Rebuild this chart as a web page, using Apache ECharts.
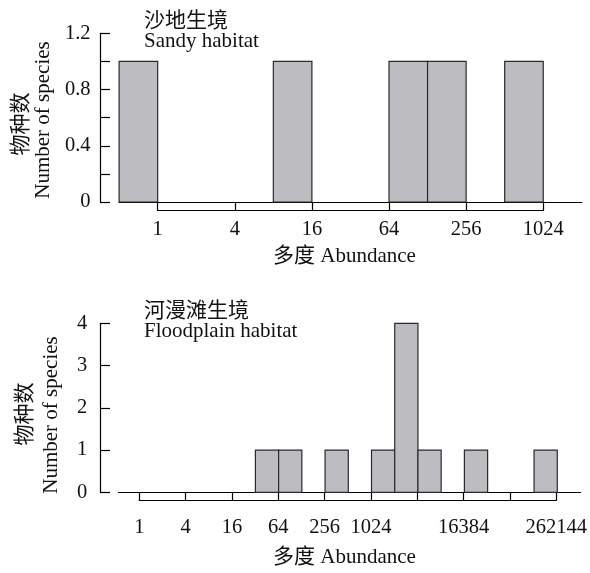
<!DOCTYPE html>
<html>
<head>
<meta charset="utf-8">
<title>物种多度分布</title>
<script src="https://cdn.jsdelivr.net/npm/echarts@6/dist/echarts.min.js"></script>
<style>
  html, body { margin: 0; padding: 0; background: #ffffff; }
  #chart { width: 590px; height: 573px; }
</style>
</head>
<body>
<div id="chart"></div>
<script>
// Octave classes are given by their upper abundance bound (bin = (bound/2, bound]).
const sandyUpperBounds = [1, 16, 128, 256, 1024];
const sandyCounts = [1, 1, 1, 1, 1];
const floodUpperBounds = [64, 128, 512, 2048, 4096, 8192, 32768, 262144];
const floodCounts = [1, 1, 1, 1, 4, 1, 1, 1];

// Abundance tick labels, one per factor-of-4 step starting at 1 (empty = unlabeled tick)
const sandyTickLabels = ['1', '4', '16', '64', '256', '1024'];
const floodTickLabels = ['1', '4', '16', '64', '256', '1024', '', '16384', '', '262144'];

const SERIF = '"Liberation Serif", "Times New Roman", "Noto Sans CJK SC", serif';
const TEXT_COLOR = '#111';
const BAR_FILL = '#bdbcc1';
const BAR_EDGE = '#2a2a2a';

function toBins(bounds, counts) {
  return bounds.map((b, i) => [Math.log2(b) - 1, Math.log2(b), counts[i]]);
}

function renderBin(params, api) {
  const p0 = api.coord([api.value(0), 0]);
  const p1 = api.coord([api.value(1), api.value(2)]);
  return {
    type: 'rect',
    shape: { x: p0[0], y: p1[1], width: p1[0] - p0[0], height: p0[1] - p1[1] },
    style: { fill: BAR_FILL, stroke: BAR_EDGE, lineWidth: 1.2 }
  };
}

const chart = echarts.init(document.getElementById('chart'), null, { renderer: 'canvas' });

const axisLineStyle = { color: '#000', width: 1.2 };
const tickFont = { fontFamily: SERIF, fontSize: 20.5, color: TEXT_COLOR };

const option = {
  animation: false,
  backgroundColor: '#ffffff',
  grid: [
    // sandy: plotting area and its abundance scale
    { left: 119.1, width: 462.7, top: 33.3, height: 168.7 },
    { left: 157.7, width: 385.6, top: 33.3, height: 168.7 },
    // floodplain: plotting area and its abundance scale
    { left: 118.4, width: 462.1, top: 323.3, height: 169 },
    { left: 139.3, width: 418, top: 323.3, height: 169 }
  ],
  xAxis: [
    { gridIndex: 0, type: 'value', min: -1, max: 11,
      axisLine: { show: true, onZero: false, lineStyle: axisLineStyle },
      axisTick: { show: false }, axisLabel: { show: false }, splitLine: { show: false } },
    { gridIndex: 1, type: 'value', min: 0, max: 10, interval: 2, offset: 8.7,
      axisLine: { show: true, onZero: false, lineStyle: axisLineStyle },
      axisTick: { show: true, inside: true, length: 8.7, lineStyle: axisLineStyle },
      axisLabel: Object.assign({ margin: 9, showMinLabel: true, showMaxLabel: true,
        formatter: v => sandyTickLabels[Math.round(v / 2)] || '' }, tickFont),
      splitLine: { show: false } },
    { gridIndex: 2, type: 'value', min: -0.9, max: 19,
      axisLine: { show: true, onZero: false, lineStyle: axisLineStyle },
      axisTick: { show: false }, axisLabel: { show: false }, splitLine: { show: false } },
    { gridIndex: 3, type: 'value', min: 0, max: 18, interval: 2, offset: 8.4,
      axisLine: { show: true, onZero: false, lineStyle: axisLineStyle },
      axisTick: { show: true, inside: true, length: 8.4, lineStyle: axisLineStyle },
      axisLabel: Object.assign({ margin: 16.5, showMinLabel: true, showMaxLabel: true,
        formatter: v => floodTickLabels[Math.round(v / 2)] || '' }, tickFont),
      splitLine: { show: false } }
  ],
  yAxis: [
    { gridIndex: 0, type: 'value', min: 0, max: 1.2, interval: 0.2, offset: 19.1,
      axisLine: { show: true, onZero: false, lineStyle: axisLineStyle },
      axisTick: { show: true, inside: true, length: 10, lineStyle: axisLineStyle },
      axisLabel: Object.assign({ margin: 9.5,
        formatter: v => (Math.round(v * 10) % 4 === 0 ? String(+v.toFixed(1)) : '') }, tickFont),
      splitLine: { show: false } },
    { gridIndex: 1, type: 'value', min: 0, max: 1.2, show: false },
    { gridIndex: 2, type: 'value', min: 0, max: 4, interval: 1, offset: 18.4,
      axisLine: { show: true, onZero: false, lineStyle: axisLineStyle },
      axisTick: { show: true, inside: true, length: 10, lineStyle: axisLineStyle },
      axisLabel: Object.assign({ margin: 12.7 }, tickFont),
      splitLine: { show: false } },
    { gridIndex: 3, type: 'value', min: 0, max: 4, show: false }
  ],
  series: [
    { type: 'custom', xAxisIndex: 0, yAxisIndex: 0, renderItem: renderBin,
      encode: { x: [0, 1], y: 2 }, data: toBins(sandyUpperBounds, sandyCounts) },
    { type: 'custom', xAxisIndex: 2, yAxisIndex: 2, renderItem: renderBin,
      encode: { x: [0, 1], y: 2 }, data: toBins(floodUpperBounds, floodCounts) }
  ],
  graphic: [
    // panel titles
    { type: 'text', left: 144, top: 11, style: { text: '沙地生境', font: '21px ' + SERIF, fill: TEXT_COLOR } },
    { type: 'text', left: 144, top: 31, style: { text: 'Sandy habitat', font: '21px ' + SERIF, fill: TEXT_COLOR } },
    { type: 'text', left: 144, top: 301, style: { text: '河漫滩生境', font: '21px ' + SERIF, fill: TEXT_COLOR } },
    { type: 'text', left: 144, top: 321, style: { text: 'Floodplain habitat', font: '21px ' + SERIF, fill: TEXT_COLOR } },
    // x-axis names
    { type: 'text', x: 344.5, y: 256, style: { text: '多度 Abundance', font: '21px ' + SERIF, fill: TEXT_COLOR,
      textAlign: 'center', textVerticalAlign: 'middle' } },
    { type: 'text', x: 344.5, y: 557, style: { text: '多度 Abundance', font: '21px ' + SERIF, fill: TEXT_COLOR,
      textAlign: 'center', textVerticalAlign: 'middle' } },
    // y-axis names (rotated, read bottom to top)
    { type: 'text', x: 21, y: 124, rotation: Math.PI / 2, style: { text: '物种数', font: '21px ' + SERIF, fill: TEXT_COLOR,
      textAlign: 'center', textVerticalAlign: 'middle' } },
    { type: 'text', x: 43, y: 120, rotation: Math.PI / 2, style: { text: 'Number of species', font: '21px ' + SERIF, fill: TEXT_COLOR,
      textAlign: 'center', textVerticalAlign: 'middle' } },
    { type: 'text', x: 25, y: 414, rotation: Math.PI / 2, style: { text: '物种数', font: '21px ' + SERIF, fill: TEXT_COLOR,
      textAlign: 'center', textVerticalAlign: 'middle' } },
    { type: 'text', x: 51, y: 415, rotation: Math.PI / 2, style: { text: 'Number of species', font: '21px ' + SERIF, fill: TEXT_COLOR,
      textAlign: 'center', textVerticalAlign: 'middle' } }
  ]
};

chart.setOption(option);
</script>
</body>
</html>
